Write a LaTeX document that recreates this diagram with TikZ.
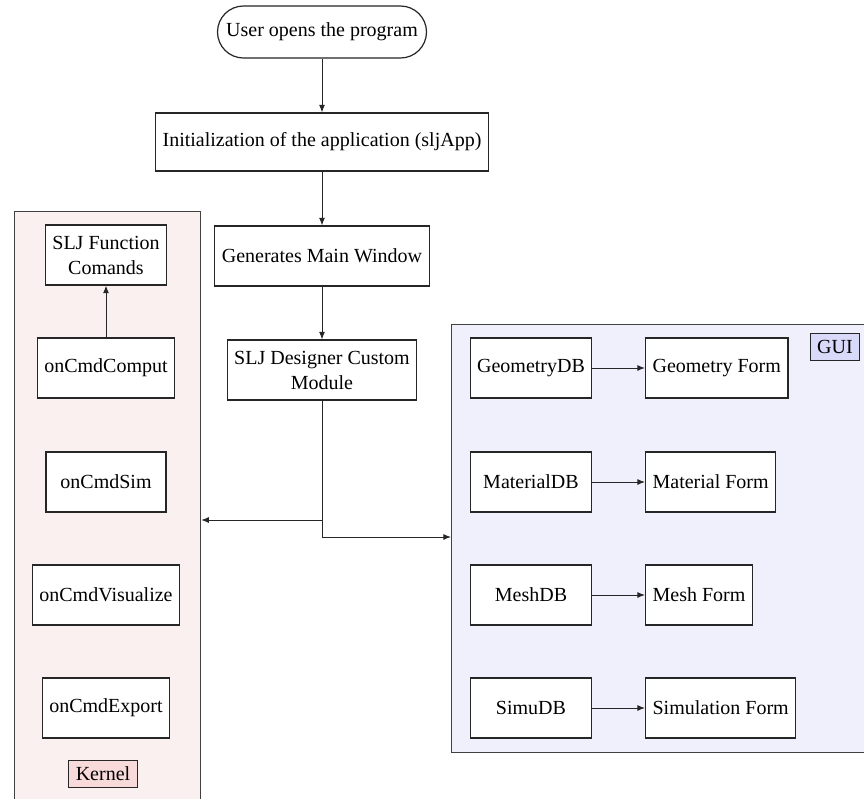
\documentclass[tikz,border=0pt]{standalone}
\usepackage{fontspec}
\setmainfont{Liberation Serif}
\usetikzlibrary{arrows.meta,positioning}
\definecolor{kernelbg}{HTML}{FBF0F0}
\definecolor{kerneltag}{HTML}{F8DADA}
\definecolor{guibg}{HTML}{F0F0FC}
\definecolor{guitag}{HTML}{D9D9F9}
\tikzset{
  box/.style={draw=black!85, fill=white, line width=0.6pt, minimum height=30pt,
    inner xsep=3.5pt, align=center, font=\fontsize{10}{12.5}\selectfont},
  dbbox/.style={box, minimum width=60.5pt},
  startbox/.style={box, rounded corners=13pt, minimum height=26pt, minimum width=104.5pt},
  region/.style={draw=black!75, line width=0.6pt, anchor=north west, inner sep=0pt},
  tag/.style={draw=black!85, line width=0.5pt, inner xsep=3.5pt, inner ysep=1.5pt,
    minimum height=13.5pt, font=\fontsize{10}{12}\selectfont},
  arrow/.style={draw=black!85, line width=0.5pt, -{Latex[length=3.8pt,width=3pt]}},
}
\begin{document}
\begin{tikzpicture}[x=0.5pt, y=-0.5pt]
\useasboundingbox (0,0) rectangle (864,799);
\clip (0,0) rectangle (864,799);
\fill[white] (0,0) rectangle (864,799);

% containers
\node[region, fill=kernelbg, minimum width=93pt, minimum height=300pt] (kernel) at (14,211) {};
\node[region, fill=guibg, minimum width=212pt, minimum height=214pt] (gui) at (451,324) {};
\node[tag, fill=kerneltag] (kerneltag) at (103,774) {Kernel};
\node[tag, fill=guitag] (guitag) at (835,347) {GUI};

% main flow
\node[startbox] (user) at (322,32) {User opens the program};
\node[box, minimum height=29pt] (init) at (322,142) {Initialization of the application (sljApp)};
\node[box] (mainwin) at (322,256) {Generates Main Window};
\node[box] (designer) at (322,370) {SLJ Designer Custom\\Module};

\draw[arrow] (user) -- (init);
\draw[arrow] (init) -- (mainwin);
\draw[arrow] (mainwin) -- (designer);

\coordinate (toKernel) at (322,520);
\coordinate (toGui) at (322,537);
\draw[arrow] (designer.south) |- (kernel.east |- toKernel);
\draw[arrow] (designer.south) |- (gui.west |- toGui);

% kernel commands
\node[box, minimum width=60pt] (func) at (106,255) {SLJ Function\\Comands};
\node[box] (comput) at (106,368) {onCmdComput};
\node[box, minimum width=60pt] (sim) at (106,482) {onCmdSim};
\node[box] (visual) at (106,595) {onCmdVisualize};
\node[box] (export) at (106,708) {onCmdExport};
\draw[arrow] (comput) -- (func);

% GUI databases and forms
\node[dbbox] (geodb) at (531,368) {GeometryDB};
\node[dbbox] (matdb) at (531,482) {MaterialDB};
\node[dbbox] (meshdb) at (531,595) {MeshDB};
\node[dbbox] (simdb) at (531,708) {SimuDB};
\node[box, anchor=west] (geoform) at (645,368) {Geometry Form};
\node[box, anchor=west] (matform) at (645,482) {Material Form};
\node[box, anchor=west] (meshform) at (645,595) {Mesh Form};
\node[box, anchor=west] (simform) at (645,708) {Simulation Form};
\draw[arrow] (geodb) -- (geoform);
\draw[arrow] (matdb) -- (matform);
\draw[arrow] (meshdb) -- (meshform);
\draw[arrow] (simdb) -- (simform);
\end{tikzpicture}
\end{document}
